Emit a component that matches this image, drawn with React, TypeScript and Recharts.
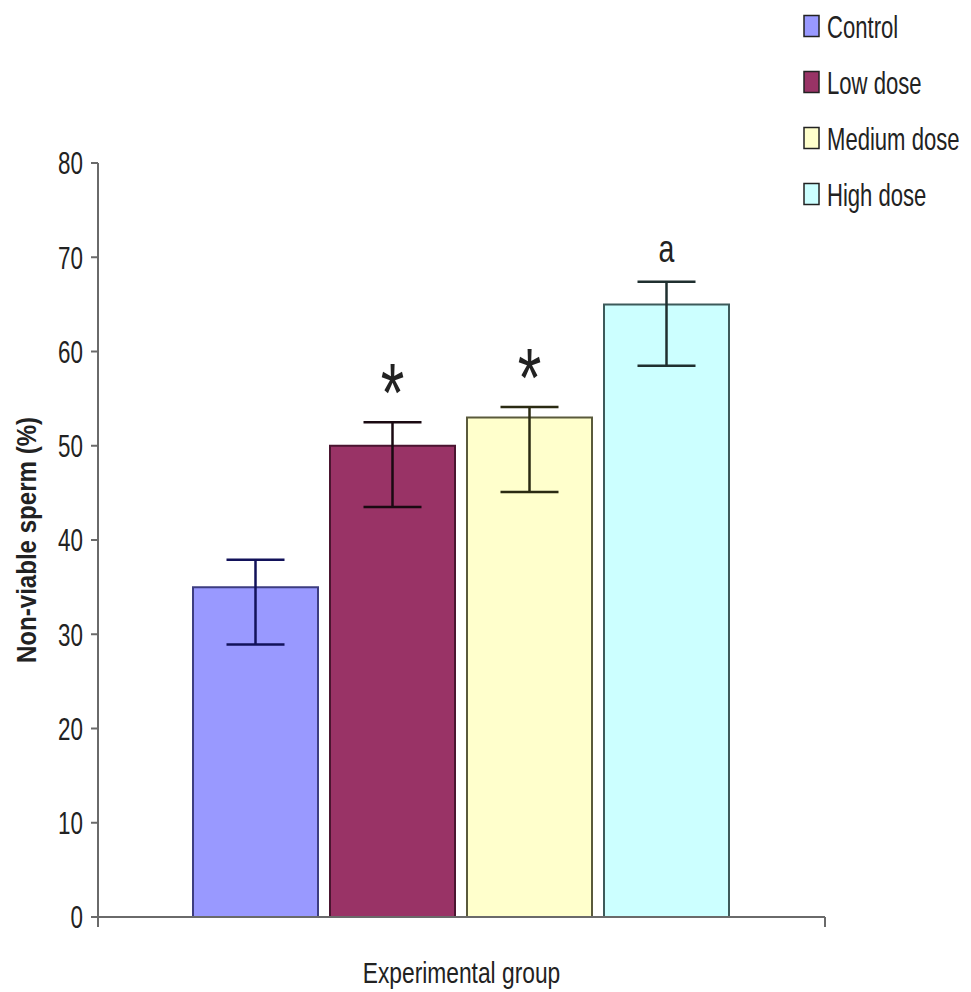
import React from 'react';
import { BarChart, Bar, XAxis, YAxis, ErrorBar, Legend, LabelList } from 'recharts';

// ---- data ----
const categories = ['Experimental group'];
const seriesNames = ['Control', 'Low dose', 'Medium dose', 'High dose'];
const seriesKeys = ['control', 'low', 'medium', 'high'];
const means = [35, 50, 53, 65];
const errLower = [6.1, 6.5, 7.9, 6.5];
const errUpper = [2.9, 2.5, 1.1, 2.4];
const annotations = ['', '*', '*', 'a'];
const yTicks = [0, 10, 20, 30, 40, 50, 60, 70, 80];
const yLabel = 'Non-viable sperm (%)';
const xLabel = 'Experimental group';

// ---- styles ----
const FONT = 'Liberation Sans, Arial, sans-serif';
const fills = ['#9999FF', '#993366', '#FFFFCC', '#CCFFFF'];
const strokes = ['#3d3d80', '#4a1530', '#5a5a3c', '#3d5a5a'];
const errColors = ['#12125a', '#1a0a12', '#2a2a12', '#1f2f2f'];
const AXIS = '#6a6a6a';

const data = categories.map((c) => {
  const row: any = { group: c };
  seriesKeys.forEach((k, i) => {
    row[k] = means[i];
    row[k + 'Err'] = [errLower[i], errUpper[i]];
  });
  return row;
});

const YTick = (props: any) => {
  const { x, y, payload } = props;
  const fs = 32;
  return (
    <text
      transform={`translate(${x},${y + fs * 0.358}) scale(0.7,1)`}
      x={0}
      y={0}
      textAnchor="end"
      fontFamily={FONT}
      fontSize={fs}
      fill="#222"
    >
      {payload.value}
    </text>
  );
};

const XEdgeTick = (props: any) => {
  const { x, y, width } = props;
  if (typeof width !== 'number') return <g />;
  const l = x - width / 2;
  const r = x + width / 2;
  return (
    <g>
      <line x1={l} y1={y} x2={l} y2={y + 10} stroke={AXIS} strokeWidth={2} />
      <line x1={r} y1={y} x2={r} y2={y + 10} stroke={AXIS} strokeWidth={2} />
    </g>
  );
};

const XLabelContent = (props: any) => {
  const vb = props.viewBox || {};
  const cx = vb.x + vb.width / 2;
  const by = vb.y + 66;
  return (
    <text
      transform={`translate(${cx},${by}) scale(0.76,1)`}
      x={0}
      y={0}
      textAnchor="middle"
      fontFamily={FONT}
      fontSize={30}
      fill="#222"
    >
      {xLabel}
    </text>
  );
};

const YLabelContent = (props: any) => {
  const vb = props.viewBox || {};
  const cy = vb.y + vb.height / 2;
  const bx = vb.x + 36;
  return (
    <text
      transform={`translate(${bx},${cy}) rotate(-90) scale(0.86,1)`}
      x={0}
      y={0}
      textAnchor="middle"
      fontFamily={FONT}
      fontSize={28}
      fontWeight="bold"
      fill="#222"
    >
      {yLabel}
    </text>
  );
};

const makeAnnot = (i: number) => (props: any) => {
  const mark = annotations[i];
  if (!mark) return null;
  const x = Number(props.x);
  const y = Number(props.y);
  const w = Number(props.width);
  const h = Number(props.height);
  const v = Number(props.value);
  const scale = h / v;
  const capY = y - errUpper[i] * scale;
  const cx = x + w / 2;
  if (mark === '*') {
    const fs = 84;
    const center = capY - 42;
    return (
      <text
        transform={`translate(${cx},${center + fs * 0.5}) scale(0.72,1)`}
        x={0}
        y={0}
        textAnchor="middle"
        fontFamily={FONT}
        fontSize={fs}
        fill="#222"
      >
        {mark}
      </text>
    );
  }
  const fs = 38;
  const center = capY - 30;
  return (
    <text
      transform={`translate(${cx},${center + fs * 0.26}) scale(0.75,1)`}
      x={0}
      y={0}
      textAnchor="middle"
      fontFamily={FONT}
      fontSize={fs}
      fill="#222"
    >
      {mark}
    </text>
  );
};

const LegendContent = () => (
  <svg width={181} height={230}>
    {seriesNames.map((name, i) => {
      const cy = 26 + i * 56;
      return (
        <g key={name}>
          <rect x={14} y={cy - 10.5} width={15} height={21} fill={fills[i]} stroke="#222" strokeWidth={1.5} />
          <text
            transform={`translate(37,${cy + 11.5}) scale(0.69,1)`}
            x={0}
            y={0}
            fontFamily={FONT}
            fontSize={32}
            fill="#222"
          >
            {name}
          </text>
        </g>
      );
    })}
  </svg>
);

export default function App() {
  return (
    <div style={{ position: 'absolute', left: 0, top: 0, width: 971, height: 992, background: '#fff' }}>
      <BarChart
        width={971}
        height={992}
        data={data}
        margin={{ top: 163, right: 146, bottom: 0, left: 0 }}
        barCategoryGap={95}
        barGap={12}
      >
        <XAxis
          dataKey="group"
          height={75}
          tickSize={0}
          tickMargin={0}
          tickLine={false}
          tick={<XEdgeTick />}
          axisLine={{ stroke: AXIS, strokeWidth: 2 }}
          label={{ content: XLabelContent }}
        />
        <YAxis
          width={98}
          domain={[0, 80]}
          ticks={yTicks}
          interval={0}
          tickSize={7}
          tickMargin={8}
          axisLine={{ stroke: AXIS, strokeWidth: 2 }}
          tickLine={{ stroke: AXIS, strokeWidth: 2 }}
          tick={<YTick />}
          label={{ content: YLabelContent }}
          allowDataOverflow
        />
        <Legend
          layout="vertical"
          align="center"
          verticalAlign="middle"
          wrapperStyle={{ left: 790, top: 0, width: 181, height: 230 }}
          content={<LegendContent />}
        />
        {seriesKeys.map((k, i) => (
          <Bar
            key={k}
            dataKey={k}
            name={seriesNames[i]}
            fill={fills[i]}
            stroke={strokes[i]}
            strokeWidth={2}
            isAnimationActive={false}
          >
            <ErrorBar
              dataKey={k + 'Err'}
              width={29}
              strokeWidth={2.5}
              stroke={errColors[i]}
              direction="y"
              isAnimationActive={false}
            />
            <LabelList dataKey={k} content={makeAnnot(i)} />
          </Bar>
        ))}
      </BarChart>
    </div>
  );
}
